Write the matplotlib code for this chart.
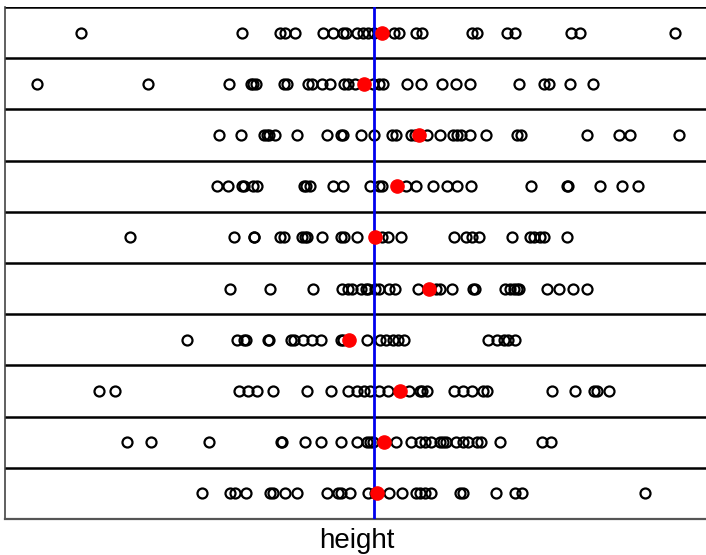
import matplotlib.pyplot as plt
import numpy as np

# heights per sample (arbitrary units), top row first
s1 = [180, 535, 620, 630, 652, 715, 738, 760, 765, 790, 803, 815, 827, 872, 884, 922, 935,
      1045, 1055, 1122, 1140, 1265, 1285, 1495]
s2 = [82, 328, 508, 555, 560, 566, 628, 635, 682, 690, 712, 730, 762, 770, 785, 825, 838, 848,
      902, 932, 978, 1010, 1040, 1148, 1205, 1215, 1262, 1313]
s3 = [484, 533, 585, 590, 596, 608, 657, 725, 755, 760, 800, 828, 868, 877, 910, 918, 945, 975,
      1003, 1012, 1020, 1040, 1075, 1145, 1153, 1300, 1370, 1395, 1503]
s4 = [480, 505, 535, 540, 560, 570, 672, 678, 686, 737, 760, 818, 838, 845, 898, 920, 958, 990,
      1012, 1043, 1176, 1255, 1258, 1328, 1378, 1412]
s5 = [287, 517, 562, 563, 620, 628, 668, 675, 680, 712, 755, 762, 790, 845, 860, 888, 1005,
      1032, 1045, 1060, 1133, 1173, 1183, 1195, 1205, 1255]
s6 = [510, 598, 693, 757, 770, 780, 800, 810, 815, 830, 840, 862, 875, 925, 965, 975, 1000,
      1048, 1052, 1118, 1130, 1138, 1145, 1150, 1212, 1237, 1268, 1300]
s7 = [413, 525, 540, 545, 593, 595, 645, 650, 670, 690, 710, 755, 760, 812, 842, 855, 870, 880,
      895, 1080, 1100, 1115, 1125, 1140]
s8 = [220, 255, 530, 550, 570, 605, 680, 732, 770, 790, 805, 820, 838, 860, 905, 930, 935, 945,
      1005, 1025, 1045, 1070, 1078, 1222, 1272, 1315, 1322, 1348]
s9 = [280, 335, 462, 622, 625, 675, 710, 755, 790, 812, 820, 825, 877, 910, 930, 940, 955, 975,
      980, 987, 1010, 1025, 1035, 1055, 1065, 1108, 1200, 1220]
s10 = [447, 510, 520, 545, 598, 605, 630, 658, 725, 748, 755, 775, 815, 830, 862, 890, 922, 930,
       940, 955, 1018, 1025, 1098, 1140, 1155, 1428]
samples = [s1, s2, s3, s4, s5, s6, s7, s8, s9, s10]

# sample means (red dots) and overall mean (blue line)
sample_means = [845, 805, 928, 878, 830, 950, 772, 885, 850, 835]
overall_mean = 828

fig = plt.figure(figsize=(7.06, 5.55), dpi=100)
ax = fig.add_axes([5 / 706, 36 / 555, 701 / 706, 512 / 555])

n = len(samples)
for i, s in enumerate(samples):
    y = n - 1 - i + 0.5
    ax.plot(s, [y] * len(s), 'o', mfc='none', mec='black', ms=7.2, mew=1.6, ls='none')
    ax.plot(sample_means[i], y, 'o', color='red', ms=9.5, ls='none', zorder=4)

for k in range(1, n + 1):
    ax.axhline(k, color='black', lw=1.8, zorder=1)

ax.axvline(overall_mean, color='#0000ee', lw=2.0, zorder=3)

ax.set_xlim(11, 1563)
ax.set_ylim(0, n)
ax.set_xticks([])
ax.set_yticks([])
for side in ['top', 'right']:
    ax.spines[side].set_visible(False)
ax.spines['left'].set_color('#444444')
ax.spines['left'].set_linewidth(1.2)
ax.spines['bottom'].set_color('#555555')
ax.spines['bottom'].set_linewidth(1.6)

fig.text(357 / 706, 1 - 541 / 555, 'height', ha='center', va='center', fontsize=20,
         family='Liberation Sans')

fig.savefig('out.png', dpi=100)
